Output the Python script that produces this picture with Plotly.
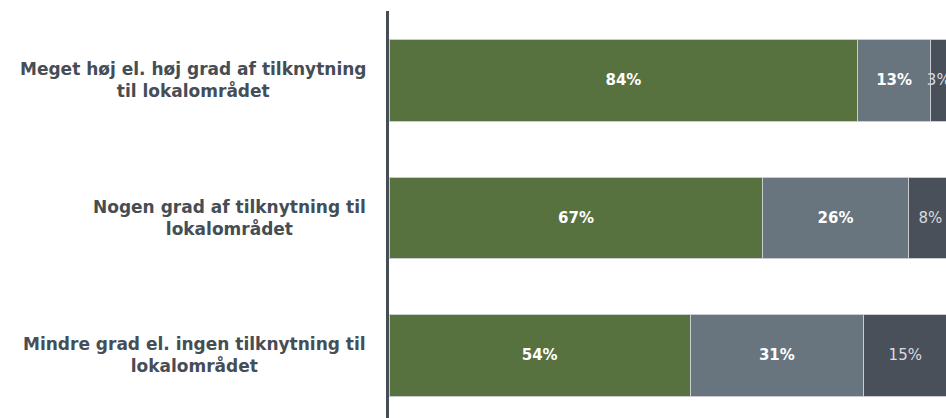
import plotly.graph_objects as go

categories = ["Meget høj el. høj grad af tilknytning<br>til lokalområdet",
              "Nogen grad af tilknytning til<br>lokalområdet",
              "Mindre grad el. ingen tilknytning til<br>lokalområdet"]
high = [84, 67, 54]
some = [13, 26, 31]
low = [3, 8, 15]

ypos = [0, 1, 2]

fig = go.Figure()
series = [
    (high, "#58723f", "white", 700),
    (some, "#68747e", "white", 700),
    (low, "#4a5059", "#d8dce0", 400),
]
for vals, col, tcol, w in series:
    fig.add_trace(go.Bar(
        y=ypos, x=vals, orientation="h", width=0.59,
        marker=dict(color=col, line=dict(color="#c9cdd1", width=1)),
        text=[f"{v}%" for v in vals], textposition="inside",
        insidetextanchor="middle", textangle=0,
        textfont=dict(color=tcol, size=15, family="DejaVu Sans", weight=w),
        showlegend=False, hoverinfo="skip",
    ))

for i, c in zip(ypos, categories):
    fig.add_annotation(
        x=-0.0377, xref="paper", y=i, yref="y", text=c,
        xanchor="right", yanchor="middle", align="center", showarrow=False,
        font=dict(size=17, color="#454d55", family="DejaVu Sans", weight=700),
    )

fig.update_layout(
    barmode="stack", width=946, height=418,
    margin=dict(l=389, r=0, t=11, b=0),
    plot_bgcolor="white", paper_bgcolor="white",
    uniformtext=dict(minsize=15, mode="show"),
    xaxis=dict(range=[0, 99.8], visible=False),
    yaxis=dict(range=[2.455, -0.505], showticklabels=False, showgrid=False,
               zeroline=False, showline=True, linecolor="#454d55", linewidth=3),
)

fig.write_html("out.html", config={"displayModeBar": False},
               post_script="document.body.style.margin='0';")
